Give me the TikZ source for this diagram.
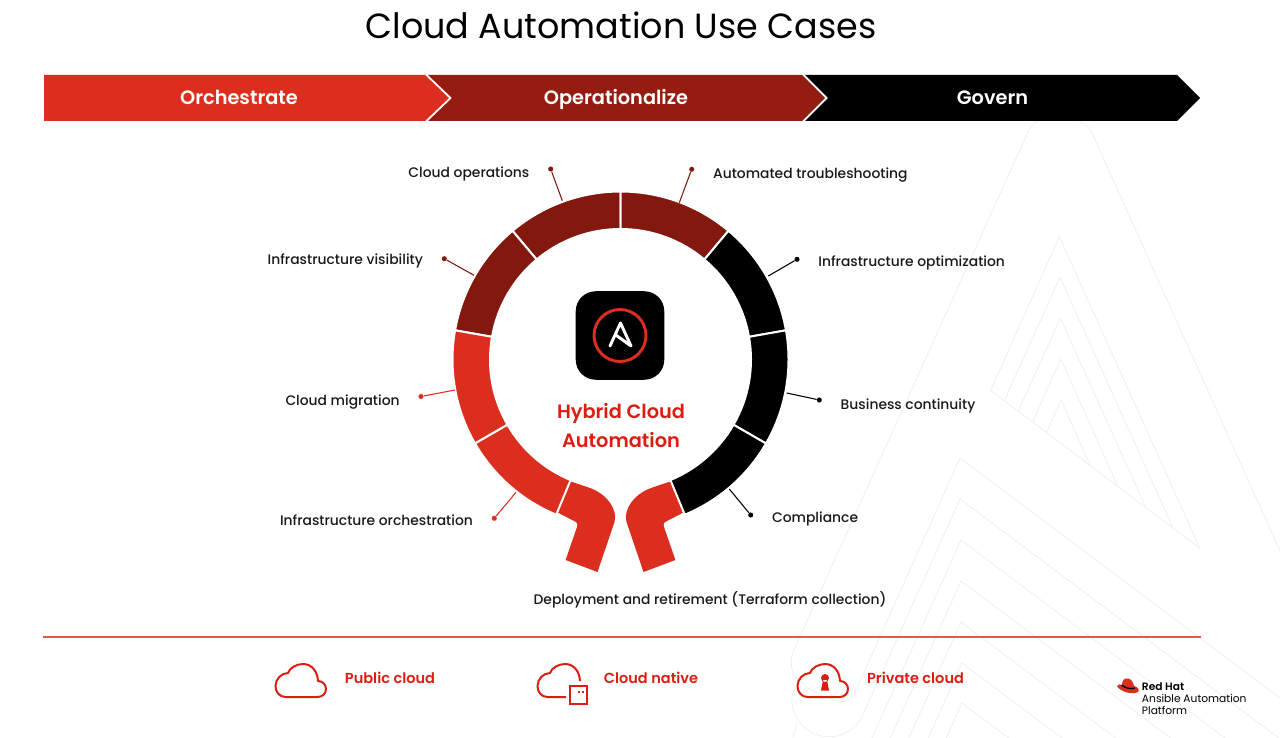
\documentclass[tikz,border=0pt]{standalone}
\usepackage{fontspec}
\setmainfont{Poppins}
\newfontfamily\medfont{Poppins Medium}
\newfontfamily\semifont{Poppins SemiBold}
\usepackage{xcolor}
\usetikzlibrary{positioning,calc}
\definecolor{rhred}{HTML}{DC2E1E}
\definecolor{rhtext}{HTML}{DC1E12}
\definecolor{rhdark}{HTML}{951C10}
\definecolor{rhring}{HTML}{83180E}
\definecolor{bgline}{HTML}{ECECEC}
\newcommand{\ringseg}[3]{\fill[#3, draw=white, line width=1.5pt] ($(hub)+(-#1:168)$) arc[start angle=-#1, end angle=-#2, radius=168] -- ($(hub)+(-#2:130.5)$) arc[start angle=-#2, end angle=-#1, radius=130.5] -- cycle;}
\newcommand{\cloudtop}{(10,21) .. controls (4,21) and (0,16) .. (0,10) .. controls (0,3) and (6,-3) .. (12.5,-3) .. controls (14,-8) and (21,-12) .. (27.5,-12) .. controls (36,-12) and (42,-5) .. (42.5,5)}
\newcommand{\cloudend}{.. controls (47,5) and (50.5,8.5) .. (50.5,13) .. controls (50.5,17.5) and (47,21) .. (42,21) -- cycle}
\begin{document}
\begin{tikzpicture}[
  x=0.75pt, y=-0.75pt,
  node distance=13.75pt,
  every node/.style={inner sep=0pt},
  banner/.style={font=\fontsize{14.5}{17}\selectfont\semifont, text=white, text height=13pt, text depth=1.2pt},
  lbl/.style={font=\fontsize{10.4}{13}\selectfont\medfont, text=black!90, text height=9.5pt, text depth=1.8pt},
  cloudlbl/.style={font=\fontsize{10.9}{13}\selectfont\semifont, text=rhtext, text height=9.5pt, text depth=1.8pt},
  dot/.style={circle, fill=#1, minimum size=3.8pt},
  lead/.style={draw=#1, line width=0.8pt},
  icon/.style={draw=rhtext, line width=1.5pt, line join=round},
  bg/.style={draw=bgline, line width=0.5pt}
]
  \useasboundingbox (0,0) rectangle (1280,738);

  \begin{scope}
    \clip (0,0) rectangle (1280,738);
    \draw[bg] (1280,551) -- (1092,133) .. controls (1086,122) and (1080,120) .. (1070,120) -- (1048,120) .. controls (1038,120) and (1033,122) .. (1028,132) -- (793,652) .. controls (788,668) and (794,678) .. (803,684) .. controls (820,697) and (845,708) .. (853,697) -- (960,458) -- ++(400,300);
    \draw[bg] (800,680) -- (793,693) .. controls (788,710) and (800,728) .. (815,734) .. controls (832,741) and (852,735) .. (862,717) -- (960,499) -- ++(400,300);
    \draw[bg] (797,723) -- (793,738);
    \foreach \ax/\ay in {961/540, 961/581, 961/622, 962/663, 962/703}
      \draw[bg] ($(\ax,\ay)+(-178,396)$) -- (\ax,\ay) -- ++(400,300);
    \draw[bg] (990.7,390.3) -- (1200,548.5);
    \foreach \lx/\ly/\ax/\ay/\rx/\ry in {990.7/390.3/1059.3/236.7/1200/548.5, 1004.3/400.7/1060/277.3/1172.7/527.3, 1018.3/411/1060.3/318.3/1145/505.7, 1032.7/421.7/1060.7/359/1117.7/486, 1046.7/432.3/1061/400/1090/465}
      \draw[bg] (\lx,\ly) -- (\ax,\ay) -- (\rx,\ry);
  \end{scope}

  \node[font=\fontsize{26.2}{31}\selectfont, text=black] (title) at (621,25) {Cloud Automation Use Cases};

  \fill[rhred] (44,75) -- (425,75) -- (449,98) -- (425,121) -- (44,121) -- cycle;
  \fill[rhdark] (428,75) -- (802,75) -- (825,98) -- (802,121) -- (428,121) -- (452,98) -- cycle;
  \fill[black] (805,75) -- (1177,75) -- (1200,98) -- (1177,121) -- (805,121) -- (828,98) -- cycle;
  \node[banner] (orch) at (239,97) {Orchestrate};
  \node[banner] (oper) at (616,97) {Operationalize};
  \node[banner] (gov) at (992.5,97) {Govern};

  \coordinate (hub) at (620.5,359.5);
  \fill[rhred] (569.3,481) -- (590,488) .. controls (607,494) and (618,510) .. (614.5,522) -- (597.5,572) -- (565.6,560) -- (577,527) .. controls (578,524) and (577,522) .. (574,521) -- (558,512.7) -- cycle;
  \fill[rhred] (671.7,481) -- (651,488) .. controls (634,494) and (623,510) .. (626.5,522) -- (643.5,572) -- (675.4,560) -- (664,527) .. controls (663,524) and (664,522) .. (667,521) -- (683,512.7) -- cycle;
  \ringseg{90}{130}{rhring}
  \ringseg{130}{170}{rhring}
  \ringseg{170}{210}{rhred}
  \ringseg{210}{247.5}{rhred}
  \ringseg{50}{90}{rhring}
  \ringseg{10}{50}{black}
  \ringseg{-30}{10}{black}
  \ringseg{-67.5}{-30}{black}

  \node[dot=rhring] (dotops) at (550.7,169) {};
  \node[dot=rhring] (dotvis) at (444.3,258.7) {};
  \node[dot=rhred] (dotmig) at (421,396.5) {};
  \node[dot=rhred] (dotorch) at (494.3,518.3) {};
  \node[dot=rhring] (dottrb) at (691.7,169.3) {};
  \node[dot=black] (dotopt) at (797,259.3) {};
  \node[dot=black] (dotbiz) at (819.3,400) {};
  \node[dot=black] (dotcomp) at (750.7,515) {};
  \coordinate (endops) at (562.3,200.7);
  \coordinate (endvis) at (474,275.3);
  \coordinate (endmig) at (455,390);
  \coordinate (endorch) at (516,492.3);
  \coordinate (endtrb) at (679.3,202.7);
  \coordinate (endopt) at (768.3,276);
  \coordinate (endbiz) at (786.7,393);
  \coordinate (endcomp) at (729.3,489);
  \draw[lead=rhring] (endops) -- (dotops);
  \draw[lead=rhring] (endvis) -- (dotvis);
  \draw[lead=rhred] (endmig) -- (dotmig);
  \draw[lead=rhred] (endorch) -- (dotorch);
  \draw[lead=rhring] (endtrb) -- (dottrb);
  \draw[lead=black] (endopt) -- (dotopt);
  \draw[lead=black] (endbiz) -- (dotbiz);
  \draw[lead=black] (endcomp) -- (dotcomp);

  \node[lbl, left=of dotops, yshift=-2.5pt] (ops) {Cloud operations};
  \node[lbl, left=of dotvis, yshift=-0.6pt] (vis) {Infrastructure visibility};
  \node[lbl, left=of dotmig, yshift=-3pt] (mig) {Cloud migration};
  \node[lbl, left=of dotorch, yshift=-1.6pt] (infraorch) {Infrastructure orchestration};
  \node[lbl, right=of dottrb, yshift=-3.2pt] (trb) {Automated troubleshooting};
  \node[lbl, right=of dotopt, yshift=-1.6pt] (opt) {Infrastructure optimization};
  \node[lbl, right=of dotbiz, yshift=-3pt] (biz) {Business continuity};
  \node[lbl, right=of dotcomp, yshift=-1.5pt] (comp) {Compliance};
  \node[lbl] (deploy) at (710,599) {Deployment and retirement (Terraform collection)};

  \node[fill=black, rounded corners=15pt, minimum size=66.4pt] (logo) at (620,335.5) {};
  \node[circle, draw=rhred, line width=2.2pt, minimum size=39pt] (logoring) at (logo) {};
  \draw[white, line width=2.2pt, line cap=round, line join=round] (610,346) -- (620.5,323) -- (631,346) -- (616.5,335.5);
  \node[align=center, font=\fontsize{14.5}{21.7}\selectfont\semifont, text=rhtext] (hybrid) at (621,425.5) {Hybrid Cloud\\Automation};

  \node (rulel) at (42,637) {};
  \node (ruler) at (1202,637) {};
  \draw[draw=rhred!80, line width=0.8pt] (rulel) -- (ruler);

  \draw[icon, shift={(275.5,676)}] \cloudtop \cloudend;
  \node[cloudlbl] (pub) at (390,678) {Public cloud};

  \draw[icon, shift={(537.5,676)}] (28.5,21) -- \cloudtop;
  \node[draw=rhtext, line width=1.5pt, minimum size=13pt] (box) at (578.8,695) {};
  \fill[rhtext] (578.2,691.2) rectangle (579.8,692.8) (582.2,691.2) rectangle (583.8,692.8);
  \node[cloudlbl] (native) at (651,678) {Cloud native};

  \draw[icon, shift={(797.5,676)}] \cloudtop \cloudend;
  \fill[rhtext] (825,678) circle[radius=4] (823,680) -- (821,690.5) -- (829,690.5) -- (827,680) -- cycle;
  \node[cloudlbl] (priv) at (915.5,678) {Private cloud};

  \fill[rhred] (1117,686) .. controls (1118,684) and (1121,684) .. (1122,685) .. controls (1122,681) and (1124,678) .. (1127,678.5) .. controls (1130,678) and (1133,681) .. (1134,686) .. controls (1138,687) and (1140,690) .. (1138,692) .. controls (1133,695) and (1120,692) .. (1117,686) -- cycle;
  \draw[black, line width=1pt] (1121.5,685) .. controls (1125,688) and (1131,689.5) .. (1135,688);
  \node[align=left, anchor=north west, font=\fontsize{8}{9.2}\selectfont, text=black] (rhlogo) at (1141.7,682) {{\semifont Red Hat}\\Ansible Automation\\Platform};
\end{tikzpicture}
\end{document}
